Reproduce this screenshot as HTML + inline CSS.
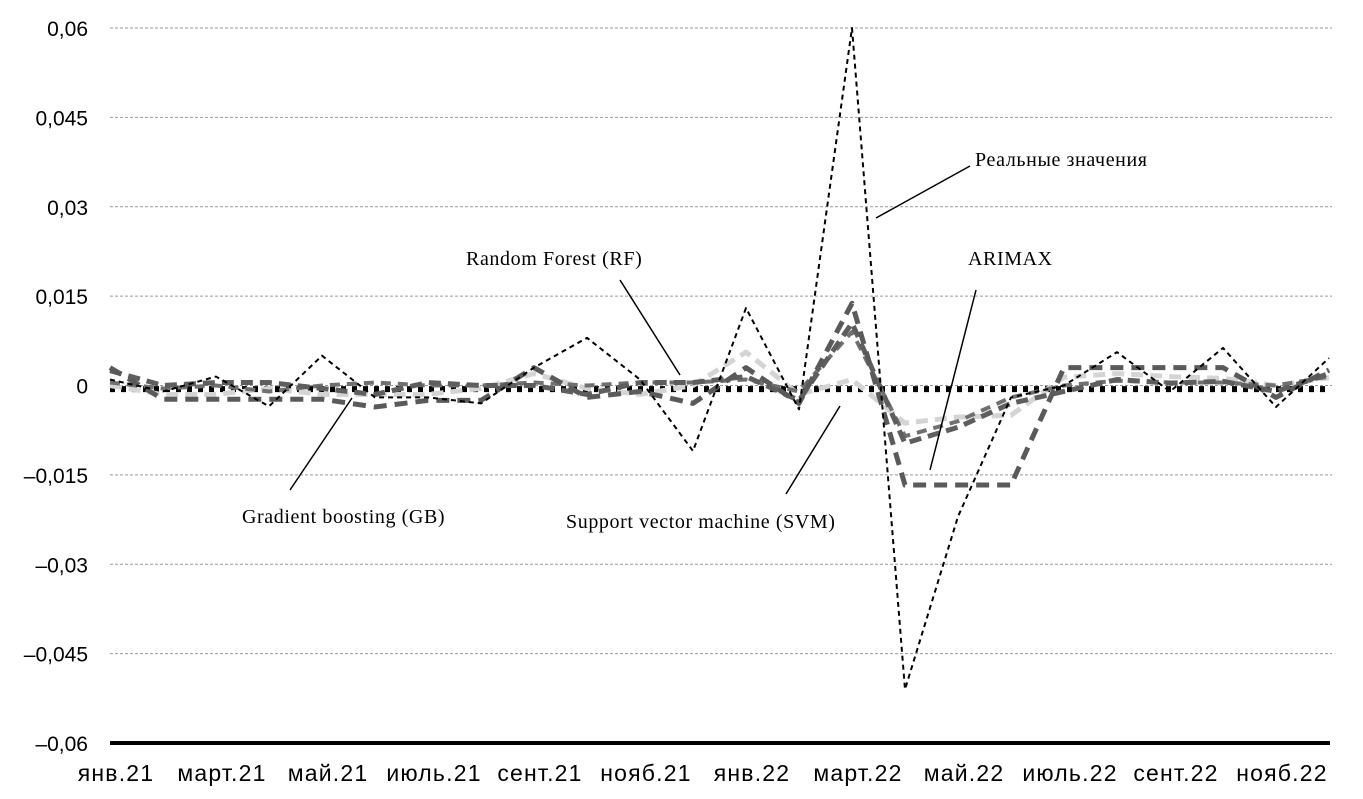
<!DOCTYPE html>
<html><head><meta charset="utf-8">
<style>
html,body{margin:0;padding:0;background:#fff;}
svg{display:block;}
.yl{font-family:"Liberation Sans",sans-serif;font-size:21px;fill:#000;}
.xl{font-family:"Liberation Sans",sans-serif;font-size:23px;fill:#000;letter-spacing:1.2px;}
.an{font-family:"Liberation Serif",serif;font-size:20px;fill:#000;letter-spacing:0.6px;}
</style></head>
<body>
<svg id="chart" width="1363" height="799" viewBox="0 0 1363 799"></svg>
<script>
const months = ["янв.21","февр.21","март.21","апр.21","май.21","июнь.21","июль.21","авг.21","сент.21","окт.21","нояб.21","дек.21","янв.22","февр.22","март.22","апр.22","май.22","июнь.22","июль.22","авг.22","сент.22","окт.22","нояб.22","дек.22"];
const yTicks = [0.06,0.045,0.03,0.015,0,-0.015,-0.03,-0.045,-0.06];
const yTickLabels = ["0,06","0,045","0,03","0,015","0","–0,015","–0,03","–0,045","–0,06"];
const realValues = [0.001,-0.001,0.0015,-0.0035,0.005,-0.002,-0.002,-0.003,0.003,0.008,0.001,-0.011,0.013,-0.004,0.06,-0.051,-0.022,-0.002,0.0,0.0056,-0.001,0.0063,-0.0036,0.0046];
const arimaxValues = [0.003,-0.0023,-0.0023,-0.0023,-0.0023,-0.0036,-0.0025,-0.0025,0.003,-0.002,-0.001,-0.003,0.003,-0.003,0.0138,-0.0167,-0.0167,-0.0167,0.003,0.003,0.003,0.003,-0.002,0.0026];
const gbValues = [0.0025,0.0,0.0005,0.0005,-0.0005,-0.0015,0.0005,0.0,0.0,-0.0015,0.0005,0.0005,0.0015,-0.0025,0.0105,-0.0097,-0.007,-0.003,-0.001,0.001,0.0004,0.0007,-0.001,0.002];
const svmValues = [0.0,-0.0015,-0.0015,-0.0005,-0.0015,-0.0015,-0.0015,-0.0005,0.002,-0.0005,-0.0015,0.0,0.0056,-0.0015,0.001,-0.0063,-0.0053,-0.005,0.0014,0.002,0.0015,0.0012,0.0,0.0013];
const rfValues = [0.0005,-0.0005,0.0,-0.001,0.0,0.0005,0.0,0.0,0.0005,0.0,0.0005,0.0005,0.001,-0.001,0.009,-0.0085,-0.006,-0.002,0.0,0.0008,0.0005,0.0005,0.0,0.0015];

const svg = document.getElementById('chart');
const NS = 'http://www.w3.org/2000/svg';
const X0 = 110, X1 = 1329, Ytop = 28, Ybot = 743;
const xScale = i => X0 + i * (X1 - X0) / (months.length - 1);
const yScale = v => Ytop + (0.06 - v) / 0.12 * (Ybot - Ytop);
function mk(tag, attrs, parent){ const e=document.createElementNS(NS,tag); for(const k in attrs) e.setAttribute(k,attrs[k]); (parent||svg).appendChild(e); return e; }

yTicks.forEach((t,i)=>{
  const y = yScale(t);
  if (t !== -0.06) {
    const g = mk('line',{x1:X0,x2:1332,y1:y,y2:y,stroke:'#999','stroke-width':1,'stroke-dasharray':'3,2'});
    
    
  }
  const tx = mk('text',{x:88,y:y+8,'text-anchor':'end',class:'yl'});
  tx.textContent = yTickLabels[i];
  
  
});

const zl = mk('line',{x1:X0,x2:1330,y1:yScale(-0.0006),y2:yScale(-0.0006),stroke:'#000','stroke-width':6,'stroke-dasharray':'5,6'});



const ax = mk('line',{x1:X0,x2:1330,y1:Ybot,y2:Ybot,stroke:'#000','stroke-width':4});


months.forEach((m,i)=>{
  if (i%2) return;
  const tx = mk('text',{x:xScale(i)+6,y:781,'text-anchor':'middle',class:'xl'});
  tx.textContent = m;
  
  
});

function series(vals,color,width,dash,name){
  const pts = vals.map((v,i)=>xScale(i)+','+yScale(v)).join(' ');
  const p = mk('polyline',{points:pts,fill:'none',stroke:color,'stroke-width':width,'stroke-dasharray':dash,'stroke-linejoin':'round'});
  
  
}
series(svmValues,'#d4d4d4',5,'12,7','svm-line');
series(rfValues,'#707070',4,'10,7','rf-line');
series(gbValues,'#5e5e5e',5,'12,7','gb-line');
series(arimaxValues,'#5a5a5a',5,'13,8','arimax-line');
series(realValues,'#000',2,'5,4','real-values-line');

const ann = [
  ['Реальные значения',975,166,[970,166,876,218],'label-real'],
  ['Random Forest (RF)',466,265,[620,280,680,375],'label-rf'],
  ['ARIMAX',968,265,[976,290,930,470],'label-arimax'],
  ['Gradient boosting (GB)',242,523,[290,490,352,398],'label-gb'],
  ['Support vector machine (SVM)',566,528,[786,494,840,406],'label-svm']
];
ann.forEach(a=>{
  const t = mk('text',{x:a[1],y:a[2],class:'an'});
  t.textContent = a[0];
  
  
  const l = mk('line',{x1:a[3][0],y1:a[3][1],x2:a[3][2],y2:a[3][3],stroke:'#000','stroke-width':1.5});
  
  
});
</script>
</body></html>
